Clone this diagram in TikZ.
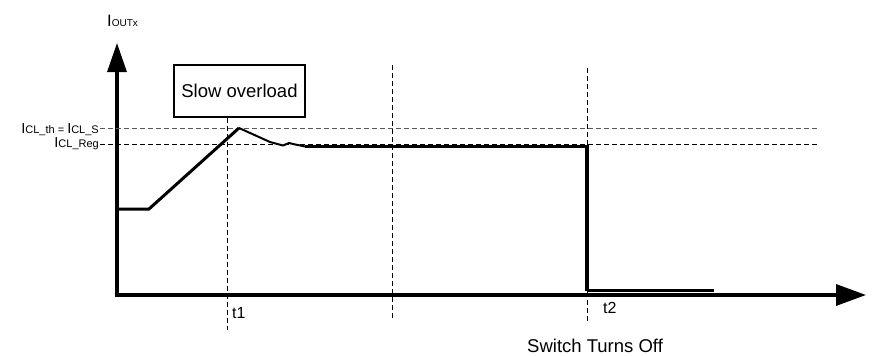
\documentclass[tikz,border=0pt]{standalone}
\usepackage{fontspec}
\setmainfont{Liberation Sans}
\usetikzlibrary{arrows.meta}
\newcommand{\curlbl}[4]{{\fontsize{#1}{#1}\selectfont #3}{\fontsize{#2}{#2}\selectfont #4}}

\begin{document}
\begin{tikzpicture}[x=1pt,y=-1pt]

\tikzstyle{axis}=[line width=3.3pt,line join=miter,{Triangle[length=29pt,width=19pt]}-{Triangle[length=30pt,width=21pt]}]
\tikzstyle{guide}=[line width=1pt,dash pattern=on 5pt off 3pt]
\tikzstyle{signal}=[line width=3pt,line join=miter]
\tikzstyle{lbl}=[inner sep=0pt]

\useasboundingbox (0,0) rectangle (886,356);

% axes
\coordinate (origin) at (117,295);
\coordinate (ytop) at (117,43);
\coordinate (xend) at (866,295);
\draw[axis] (ytop) -- (origin) -- (xend);

% current levels
\draw[guide,gray!70!black] (100,128) -- (817,128);
\draw[guide] (100,144.5) -- (817,144.5);

% time marks
\foreach \x/\a/\b in {227/118/330, 392/65/320, 587/68/323}
    \draw[guide] (\x,\a) -- (\x,\b);

\node (overload) [draw,line width=2pt,fill=white,minimum width=131pt,minimum height=52pt,
    font=\fontsize{18.5}{22}\selectfont] at (239.5,90.5) {Slow overload};

% output current
\draw[signal] (origin |- 0,209) -- (149,209) -- (239,128);
\draw[line width=2pt,line join=round] (239,128) -- (270,142) -- (283,145.5) -- (289,143) -- (293,144) -- (305,146.5);
\draw[signal,line width=3.5pt] (305,146.5) -- (587,146.5) -- (587,290.5);
\draw[signal] (587,290.5) -- (714,290.5);

% labels
\node (iout) [lbl,anchor=base west] at (107,26) {\curlbl{16.5}{10}{I}{OUTx}};
\node (ith) [lbl,anchor=base east] at (99,133) {\curlbl{14.5}{11}{I}{CL\_th = }\curlbl{14.5}{11}{I}{CL\_S}};
\node (ireg) [lbl,anchor=base east] at (99,147) {\curlbl{14.5}{11}{I}{CL\_Reg}};
\node (t1) [lbl,anchor=base west,font=\fontsize{16}{18}\selectfont] at (232,318) {t1};
\node (t2) [lbl,anchor=base west,font=\fontsize{16}{18}\selectfont] at (603,313) {t2};
\node (off) [lbl,anchor=base west,font=\fontsize{18.5}{22}\selectfont] at (527,352) {Switch Turns Off};

\end{tikzpicture}
\end{document}
